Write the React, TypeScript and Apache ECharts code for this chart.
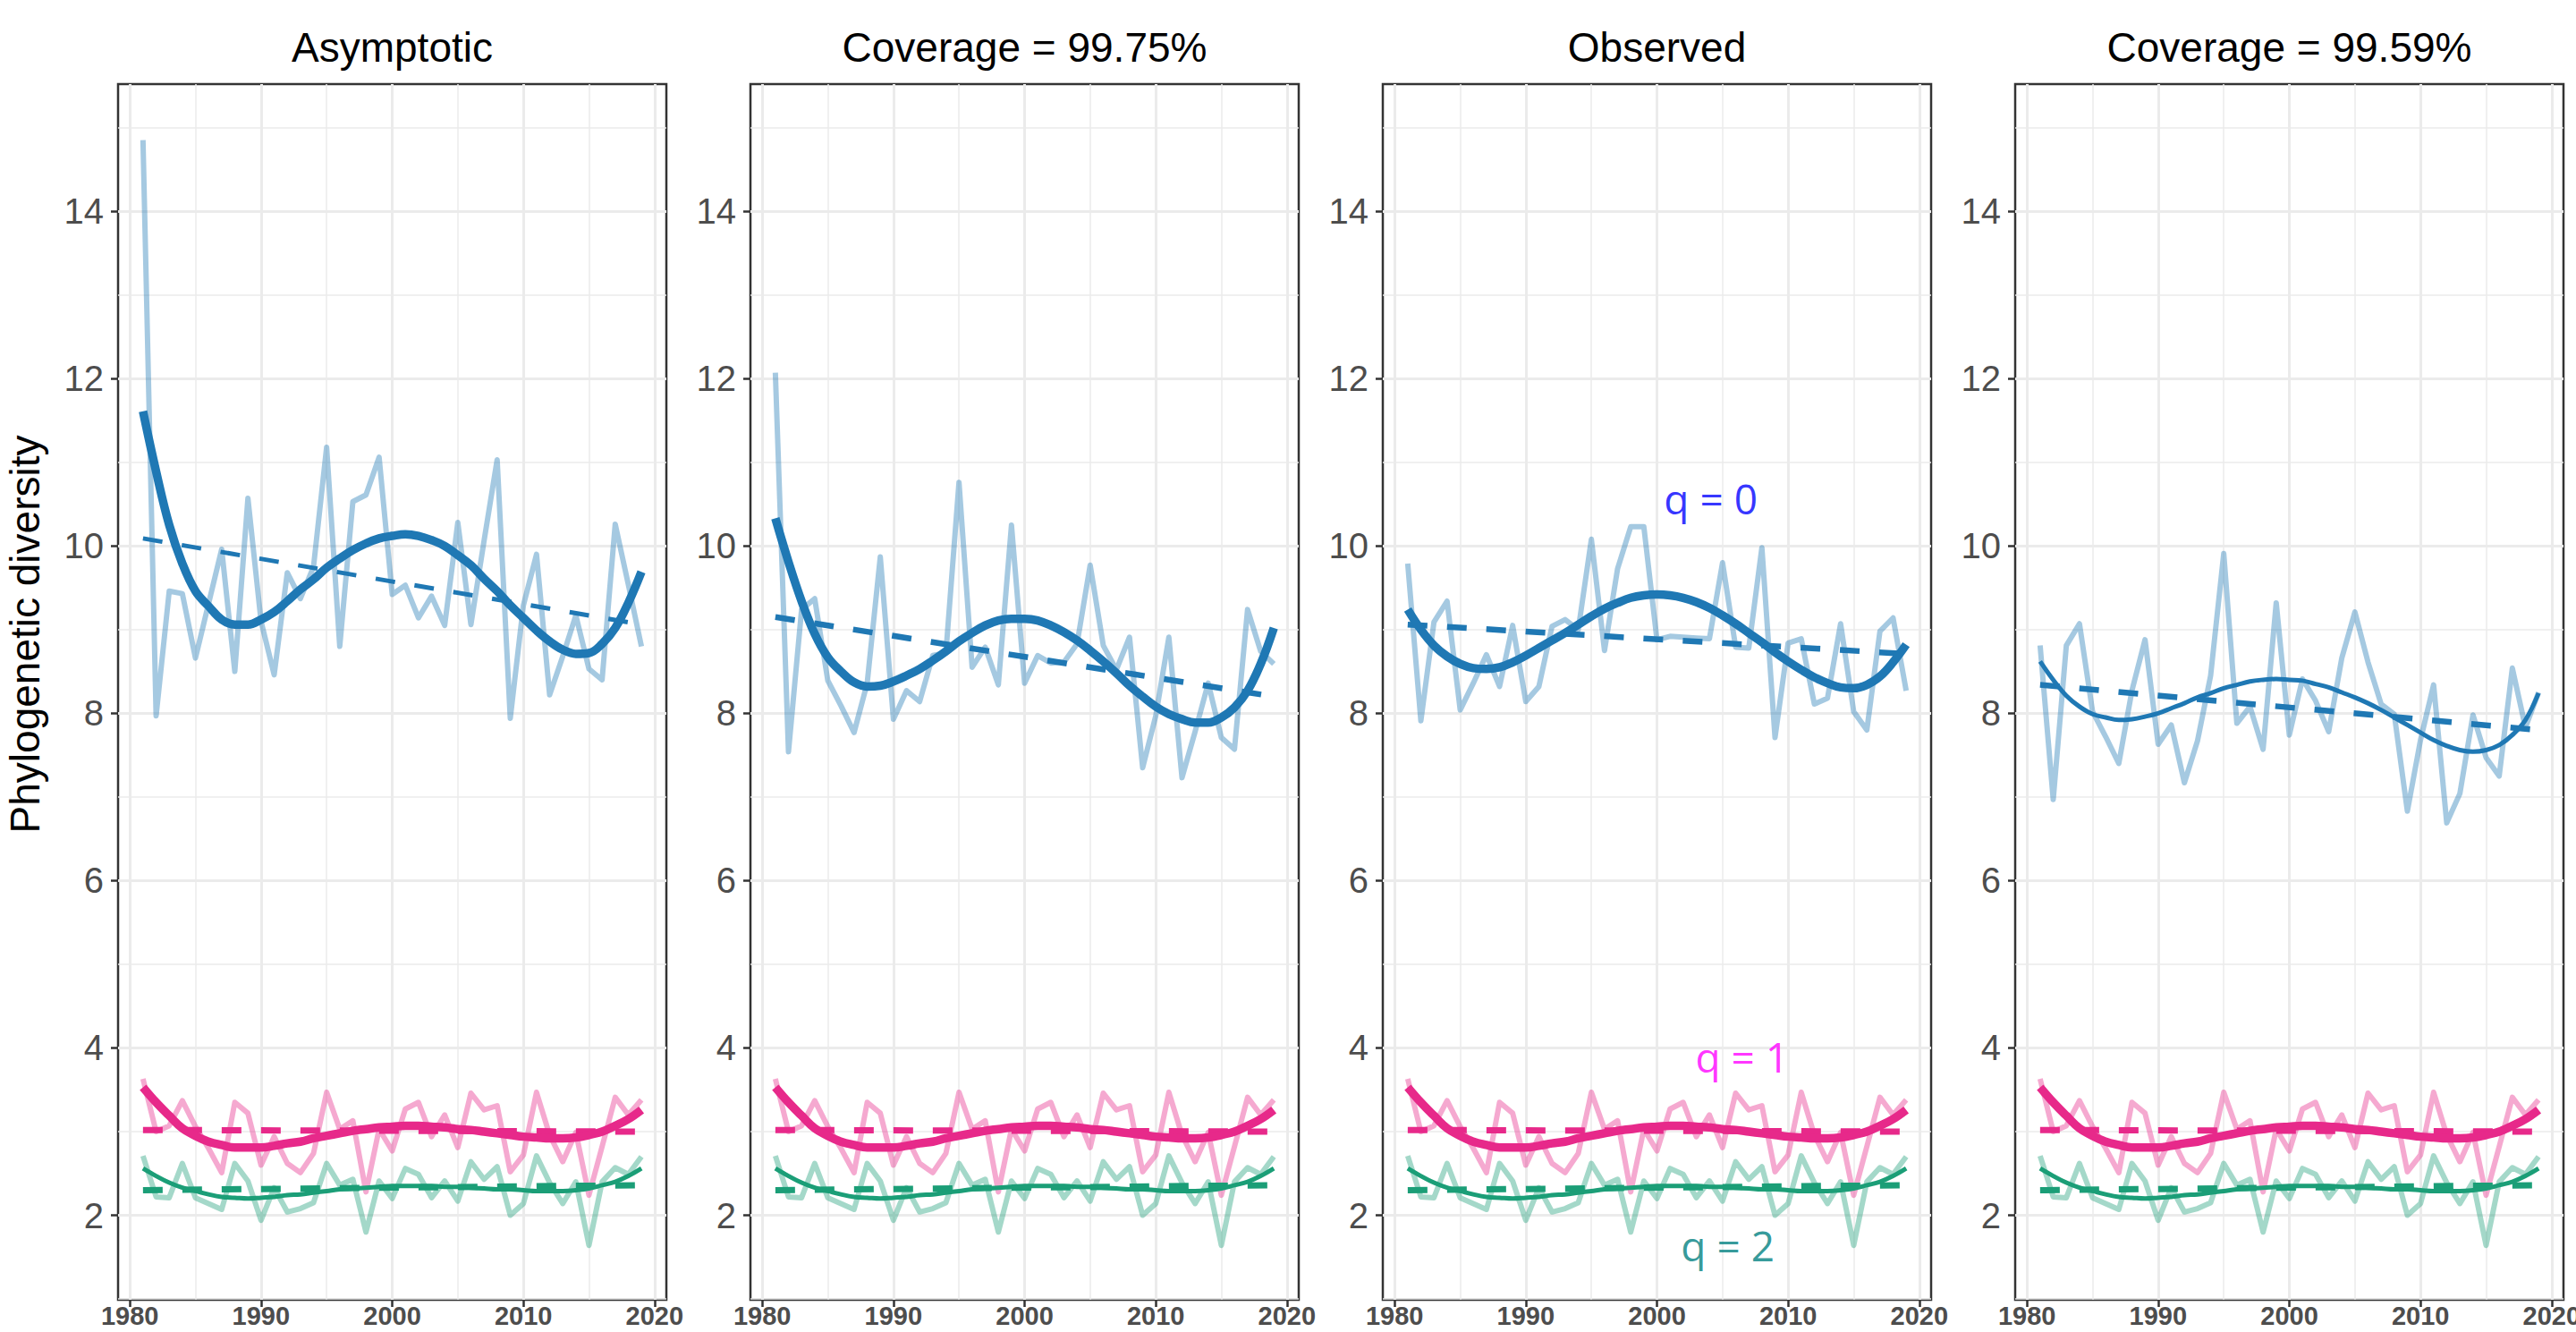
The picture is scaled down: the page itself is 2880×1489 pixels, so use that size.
import React, { useEffect, useRef } from "react";
import * as echarts from "echarts";

// ---------- data ----------
const years = [
  1981, 1982, 1983, 1984, 1985, 1986, 1987, 1988, 1989, 1990,
  1991, 1992, 1993, 1994, 1995, 1996, 1997, 1998, 1999, 2000,
  2001, 2002, 2003, 2004, 2005, 2006, 2007, 2008, 2009, 2010,
  2011, 2012, 2013, 2014, 2015, 2016, 2017, 2018, 2019,
];

const panelTitles = ["Asymptotic", "Coverage = 99.75%", "Observed", "Coverage = 99.59%"];
const xTickValues = [1980, 1990, 2000, 2010, 2020];
const yTickValues = [2, 4, 6, 8, 10, 12, 14];

// q = 0, raw yearly values per panel
const q0RawAsymptotic = [
  14.85, 7.97, 9.46, 9.43, 8.66, 9.31, 9.96, 8.5, 10.57, 9.1,
  8.46, 9.68, 9.37, 9.75, 11.18, 8.8, 10.53, 10.61, 11.06, 9.42,
  9.53, 9.14, 9.4, 9.05, 10.28, 9.06, 10.06, 11.03, 7.94, 9.29,
  9.9, 8.22, 8.68, 9.17, 8.53, 8.4, 10.26, 9.54, 8.8,
];
const q0RawCov9975 = [
  12.07, 7.54, 9.24, 9.37, 8.39, 8.09, 7.77, 8.36, 9.87, 7.93,
  8.27, 8.14, 8.69, 8.72, 10.76, 8.55, 8.79, 8.34, 10.25, 8.36,
  8.69, 8.6, 8.61, 8.83, 9.77, 8.81, 8.52, 8.91, 7.35, 7.97,
  8.91, 7.23, 7.78, 8.36, 7.71, 7.57, 9.24, 8.74, 8.59,
];
const q0RawObserved = [
  9.79, 7.91, 9.09, 9.34, 8.04, 8.36, 8.7, 8.32, 9.05, 8.14,
  8.32, 9.04, 9.12, 9.0, 10.08, 8.75, 9.73, 10.23, 10.23, 8.88,
  8.92, 8.91, 8.9, 8.89, 9.8, 8.79, 8.78, 9.98, 7.71, 8.84,
  8.89, 8.11, 8.18, 9.07, 8.02, 7.8, 8.98, 9.14, 8.27,
];
const q0RawCov9959 = [
  8.81, 6.97, 8.81, 9.07, 8.02, 7.72, 7.4, 8.27, 8.88, 7.63,
  7.86, 7.17, 7.67, 8.45, 9.91, 7.88, 8.08, 7.57, 9.32, 7.74,
  8.41, 8.15, 7.78, 8.66, 9.21, 8.61, 8.11, 7.99, 6.83, 7.68,
  8.34, 6.69, 7.04, 7.98, 7.47, 7.25, 8.54, 7.83, 8.25,
];

// q = 0, smoothed trend per panel
const q0SmoothAsymptotic = [
  11.61, 10.89, 10.25, 9.79, 9.46, 9.28, 9.12, 9.06, 9.06, 9.12,
  9.21, 9.34, 9.48, 9.6, 9.74, 9.85, 9.95, 10.03, 10.09, 10.12,
  10.14, 10.12, 10.07, 10.0, 9.89, 9.77, 9.61, 9.46, 9.29, 9.14,
  8.99, 8.86, 8.76, 8.71, 8.72, 8.83, 9.02, 9.32, 9.69,
];
const q0SmoothCov9975 = [
  10.33, 9.81, 9.34, 8.95, 8.67, 8.5, 8.37, 8.32, 8.33, 8.38,
  8.45, 8.53, 8.63, 8.74, 8.86, 8.96, 9.05, 9.11, 9.13, 9.13,
  9.11, 9.05, 8.97, 8.87, 8.75, 8.62, 8.48, 8.33, 8.2, 8.08,
  7.99, 7.93, 7.89, 7.89, 7.95, 8.07, 8.27, 8.59, 9.02,
];
const q0SmoothObserved = [
  9.24, 9.0, 8.81, 8.68, 8.59, 8.54, 8.53, 8.55, 8.61, 8.69,
  8.78, 8.87, 8.96, 9.06, 9.16, 9.25, 9.32, 9.38, 9.41, 9.42,
  9.41, 9.38, 9.33, 9.26, 9.17, 9.07, 8.96, 8.85, 8.73, 8.62,
  8.52, 8.43, 8.36, 8.31, 8.3, 8.34, 8.44, 8.61, 8.82,
];
const q0SmoothCov9959 = [
  8.62, 8.4, 8.21, 8.08, 7.99, 7.95, 7.92, 7.93, 7.96, 8.0,
  8.06, 8.12, 8.19, 8.24, 8.3, 8.34, 8.38, 8.4, 8.41, 8.4,
  8.39, 8.35, 8.31, 8.25, 8.19, 8.12, 8.04, 7.95, 7.86, 7.77,
  7.68, 7.61, 7.56, 7.54, 7.56, 7.62, 7.74, 7.92, 8.24,
];

// q = 0, linear trend end values (1981, 2019) per panel
const q0LinearAsymptotic = [10.09, 9.06];
const q0LinearCov9975 = [9.15, 8.2];
const q0LinearObserved = [9.06, 8.71];
const q0LinearCov9959 = [8.34, 7.8];
const linearYears = [1981, 2019];

// q = 1 and q = 2 (same in every panel)
const q1Raw = [
  3.63, 3.0, 3.07, 3.37, 3.06, 2.8, 2.51, 3.35, 3.22, 2.6,
  2.94, 2.62, 2.51, 2.74, 3.47, 3.03, 3.13, 2.28, 3.03, 2.77,
  3.27, 3.35, 2.94, 3.2, 2.81, 3.46, 3.26, 3.31, 2.52, 2.72,
  3.47, 2.96, 2.64, 2.99, 2.24, 2.82, 3.41, 3.2, 3.38,
];
const q1Smooth = [
  3.53, 3.35, 3.19, 3.04, 2.95, 2.88, 2.84, 2.81, 2.81, 2.81,
  2.83, 2.86, 2.88, 2.92, 2.95, 2.98, 3.01, 3.03, 3.05, 3.06,
  3.07, 3.07, 3.06, 3.05, 3.03, 3.02, 3.0, 2.98, 2.96, 2.94,
  2.93, 2.92, 2.92, 2.93, 2.96, 3.0, 3.07, 3.15, 3.26,
];
const q1Linear = [3.02, 3.0];
const q2Raw = [
  2.71, 2.22, 2.21, 2.62, 2.21, 2.14, 2.07, 2.62, 2.41, 1.94,
  2.33, 2.04, 2.08, 2.15, 2.62, 2.36, 2.43, 1.8, 2.41, 2.2,
  2.56, 2.49, 2.21, 2.41, 2.17, 2.64, 2.43, 2.58, 2.0, 2.14,
  2.71, 2.39, 2.14, 2.4, 1.64, 2.4, 2.57, 2.49, 2.7,
];
const q2Smooth = [
  2.56, 2.47, 2.39, 2.33, 2.29, 2.25, 2.22, 2.21, 2.2, 2.21,
  2.22, 2.24, 2.25, 2.27, 2.29, 2.31, 2.32, 2.33, 2.34, 2.35,
  2.35, 2.35, 2.35, 2.34, 2.34, 2.33, 2.32, 2.31, 2.31, 2.3,
  2.29, 2.29, 2.29, 2.3, 2.32, 2.36, 2.4, 2.47, 2.56,
];
const q2Linear = [2.3, 2.36];

// annotations in the "Observed" panel
const annotationLabels = ["q = 0", "q = 1", "q = 2"];
const annotationX = [2004.1, 2006.5, 2005.4];
const annotationY = [10.57, 3.9, 1.64];

const q0RawPanels = [q0RawAsymptotic, q0RawCov9975, q0RawObserved, q0RawCov9959];
const q0SmoothPanels = [q0SmoothAsymptotic, q0SmoothCov9975, q0SmoothObserved, q0SmoothCov9959];
const q0LinearPanels = [q0LinearAsymptotic, q0LinearCov9975, q0LinearObserved, q0LinearCov9959];

// ---------- styles / layout ----------
const BLUE = "#1F78B4";
const PINK = "#E7298A";
const GREEN = "#1B9E77";
const ANNOT_COLORS = ["#0000FF", "#FF00FF", "#008080"];
const FONT = "'Liberation Sans', Arial, Helvetica, sans-serif";
const NARROW = "'Liberation Sans Narrow', 'Arial Narrow', 'Liberation Sans', sans-serif";
const PANEL_LEFTS = [132, 839, 1546, 2253];
const PANEL_WIDTH = 613;
const PANEL_TOP = 94;
const PANEL_HEIGHT = 1359;
const X_MIN = 1979.1;
const X_MAX = 2020.9;
const Y_MIN = 0.99;
const Y_MAX = 15.52;
const RAW_WIDTH = 6;
const q0SmoothWidths = [9.5, 9.5, 9.5, 5];
const q0LinearWidths = [5, 6.5, 6.5, 6.5];
const Q1_SMOOTH_WIDTH = 9.5;
const Q2_SMOOTH_WIDTH = 5;
const Q12_LINEAR_WIDTH = 7;
const DASH = [22, 22];

const pairs = (xs: number[], ys: number[]) => xs.map((x, i) => [x, ys[i]]);

function buildOption() {
  const series: any[] = [];
  PANEL_LEFTS.forEach((_, p) => {
    const base = { type: "line", xAxisIndex: p, yAxisIndex: p, showSymbol: false, symbol: "none", silent: true };
    // raw lines
    series.push({ ...base, name: `q0 raw ${p}`, data: pairs(years, q0RawPanels[p]), lineStyle: { color: BLUE, width: RAW_WIDTH, opacity: 0.4, join: "round" }, z: 2 });
    series.push({ ...base, name: `q1 raw ${p}`, data: pairs(years, q1Raw), lineStyle: { color: PINK, width: RAW_WIDTH, opacity: 0.4, join: "round" }, z: 2 });
    series.push({ ...base, name: `q2 raw ${p}`, data: pairs(years, q2Raw), lineStyle: { color: GREEN, width: RAW_WIDTH, opacity: 0.4, join: "round" }, z: 2 });
    // linear trends
    series.push({ ...base, name: `q0 lin ${p}`, data: pairs(linearYears, q0LinearPanels[p]), lineStyle: { color: BLUE, width: q0LinearWidths[p], type: DASH, cap: "butt" }, z: 3 });
    series.push({ ...base, name: `q1 lin ${p}`, data: pairs(linearYears, q1Linear), lineStyle: { color: PINK, width: Q12_LINEAR_WIDTH, type: DASH, cap: "butt" }, z: 3 });
    series.push({ ...base, name: `q2 lin ${p}`, data: pairs(linearYears, q2Linear), lineStyle: { color: GREEN, width: Q12_LINEAR_WIDTH, type: DASH, cap: "butt" }, z: 3 });
    // smooth trends
    series.push({ ...base, name: `q0 smooth ${p}`, smooth: 0.4, data: pairs(years, q0SmoothPanels[p]), lineStyle: { color: BLUE, width: q0SmoothWidths[p], cap: "butt" }, z: 4 });
    series.push({ ...base, name: `q1 smooth ${p}`, smooth: 0.4, data: pairs(years, q1Smooth), lineStyle: { color: PINK, width: Q1_SMOOTH_WIDTH, cap: "butt" }, z: 4 });
    series.push({ ...base, name: `q2 smooth ${p}`, smooth: 0.4, data: pairs(years, q2Smooth), lineStyle: { color: GREEN, width: Q2_SMOOTH_WIDTH, cap: "butt" }, z: 4 });
  });

  series.push({
    type: "scatter",
    name: "annotations",
    xAxisIndex: 2,
    yAxisIndex: 2,
    silent: true,
    symbolSize: 1,
    itemStyle: { color: "rgba(0,0,0,0)" },
    z: 10,
    data: annotationLabels.map((t, i) => ({
      name: t,
      value: [annotationX[i], annotationY[i]],
      label: {
        show: true,
        position: "inside",
        formatter: t,
        fontFamily: "'Open Sans', 'Noto Sans', sans-serif",
        fontSize: 46,
        color: ANNOT_COLORS[i],
      },
    })),
  });

  const intFmt = (v: number) => (Math.abs(v - Math.round(v)) < 1e-6 ? String(Math.round(v)) : "");

  const graphic: any[] = panelTitles.map((t, i) => ({
    type: "text",
    x: PANEL_LEFTS[i] + PANEL_WIDTH / 2,
    y: 53,
    silent: true,
    style: {
      text: t,
      fontSize: 46,
      fontFamily: FONT,
      fill: "#000000",
      align: "center",
      verticalAlign: "middle",
      textAlign: "center",
      textVerticalAlign: "middle",
    },
  }));
  graphic.push({
    type: "text",
    x: 28,
    y: 709,
    rotation: Math.PI / 2,
    silent: true,
    style: {
      text: "Phylogenetic diversity",
      fontSize: 46,
      fontFamily: FONT,
      fill: "#000000",
      align: "center",
      verticalAlign: "middle",
      textAlign: "center",
      textVerticalAlign: "middle",
    },
  });

  return {
    animation: false,
    backgroundColor: "#ffffff",
    grid: PANEL_LEFTS.map((l) => ({
      left: l,
      top: PANEL_TOP,
      width: PANEL_WIDTH,
      height: PANEL_HEIGHT,
      show: true,
      borderColor: "#333333",
      borderWidth: 2.5,
      backgroundColor: "transparent",
      containLabel: false,
      outerBoundsMode: "none",
    })),
    xAxis: PANEL_LEFTS.map((_, i) => ({
      type: "value",
      gridIndex: i,
      min: X_MIN,
      max: X_MAX,
      splitNumber: 4,
      axisLine: { show: false },
      axisTick: { show: true, length: 8, customValues: xTickValues, lineStyle: { color: "#333333", width: 2.5 } },
      axisLabel: {
        show: true,
        customValues: xTickValues,
        margin: 3,
        fontFamily: NARROW,
        fontWeight: "bold",
        fontSize: 29,
        lineHeight: 29,
        color: "#4D4D4D",
        showMinLabel: true,
        showMaxLabel: true,
        hideOverlap: false,
        formatter: intFmt,
      },
      splitLine: { show: true, lineStyle: { color: "#EBEBEB", width: 3 } },
      minorTick: { show: false, splitNumber: 2 },
      minorSplitLine: { show: true, lineStyle: { color: "#EBEBEB", width: 1.5 } },
    })),
    yAxis: PANEL_LEFTS.map((_, i) => ({
      type: "value",
      gridIndex: i,
      min: Y_MIN,
      max: Y_MAX,
      splitNumber: 7,
      axisLine: { show: false },
      axisTick: { show: true, length: 8, customValues: yTickValues, lineStyle: { color: "#333333", width: 2.5 } },
      axisLabel: {
        show: true,
        customValues: yTickValues,
        margin: 16,
        fontFamily: FONT,
        fontSize: 40,
        color: "#4D4D4D",
        hideOverlap: false,
        formatter: intFmt,
      },
      splitLine: { show: true, lineStyle: { color: "#EBEBEB", width: 3 } },
      minorTick: { show: false, splitNumber: 2 },
      minorSplitLine: { show: true, lineStyle: { color: "#EBEBEB", width: 1.5 } },
    })),
    graphic,
    series,
  };
}

export default function App() {
  const ref = useRef<HTMLDivElement>(null);
  useEffect(() => {
    if (!ref.current) return;
    const chart = echarts.init(ref.current, null, { renderer: "svg" });
    chart.setOption(buildOption() as any);
    return () => chart.dispose();
  }, []);
  return (
    <div
      ref={ref}
      style={{ position: "fixed", left: 0, top: 0, width: 2880, height: 1489, background: "#ffffff" }}
    />
  );
}
